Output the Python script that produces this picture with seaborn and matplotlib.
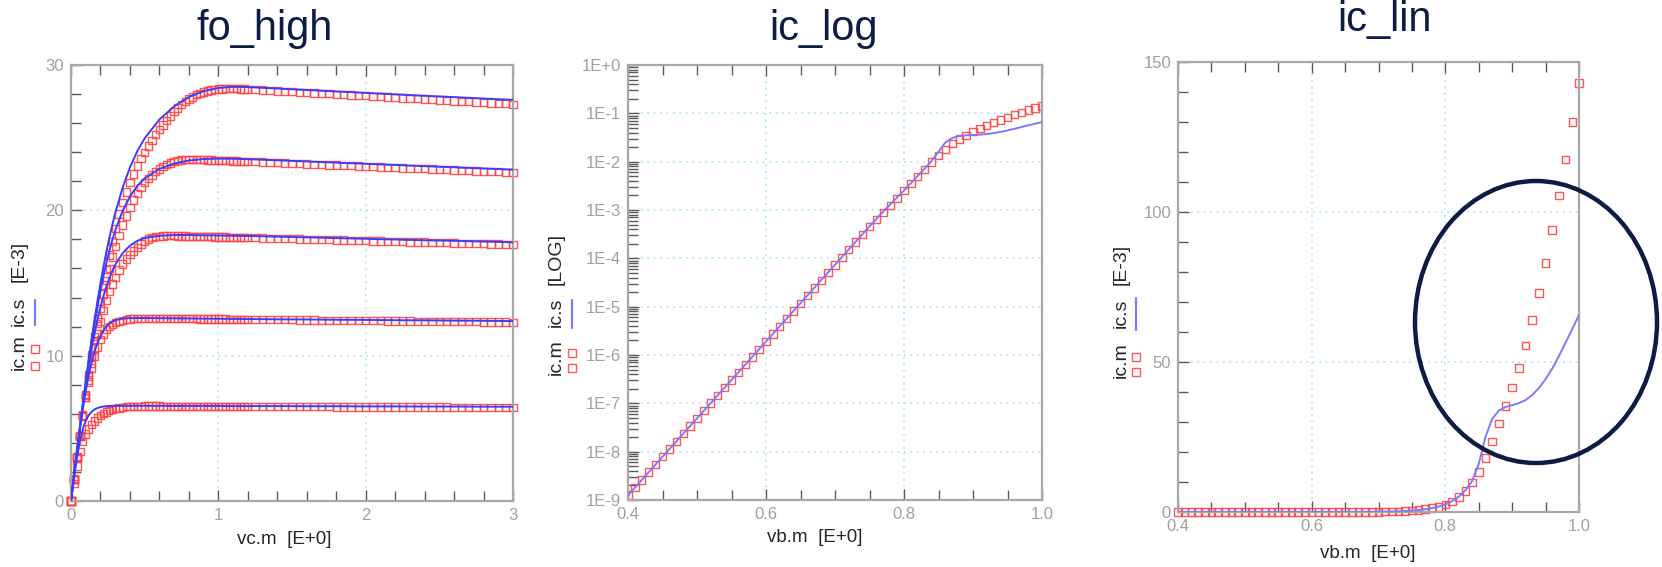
import numpy as np
import pandas as pd
import matplotlib
matplotlib.use("Agg")
import matplotlib.pyplot as plt
import seaborn as sns
from matplotlib.patches import Ellipse
from matplotlib.lines import Line2D
from matplotlib.ticker import MultipleLocator, LogLocator, FuncFormatter, NullFormatter

# ---------------- output characteristics (fo_high), currents in mA ----------------
VC_MEAS = [0.00, 0.02, 0.04, 0.06, 0.08, 0.10, 0.12, 0.14, 0.16, 0.18, 0.20, 0.22, 0.24, 0.26, 0.28, 0.30,
           0.325, 0.350, 0.375, 0.400, 0.425, 0.450, 0.475, 0.500, 0.525, 0.550, 0.575, 0.600,
           0.625, 0.650, 0.675, 0.700, 0.725, 0.750, 0.775, 0.800, 0.825, 0.850, 0.875, 0.900,
           0.925, 0.950, 0.975, 1.000, 1.025, 1.050, 1.075, 1.100, 1.125, 1.150, 1.175, 1.200,
           1.25, 1.30, 1.35, 1.40, 1.45, 1.50, 1.55, 1.60, 1.65, 1.70, 1.75, 1.80, 1.85, 1.90, 1.95, 2.00,
           2.05, 2.10, 2.15, 2.20, 2.25, 2.30, 2.35, 2.40, 2.45, 2.50, 2.55, 2.60, 2.65, 2.70, 2.75, 2.80,
           2.85, 2.90, 2.95, 3.00]

IC_MEAS_1 = [0.0, 1.20, 2.40, 3.40, 4.10, 4.60, 4.95, 5.25, 5.50, 5.70, 5.87, 6.00, 6.12, 6.22, 6.30, 6.36,
             6.41, 6.45, 6.48, 6.50, 6.51, 6.52, 6.52, 6.53, 6.53, 6.53, 6.53, 6.53,
             6.52, 6.52, 6.52, 6.52, 6.52, 6.52, 6.52, 6.52, 6.51, 6.51, 6.51, 6.51,
             6.51, 6.51, 6.51, 6.51, 6.50, 6.50, 6.50, 6.50, 6.50, 6.50, 6.50, 6.50,
             6.50, 6.49, 6.49, 6.49, 6.49, 6.49, 6.48, 6.48, 6.48, 6.48, 6.48, 6.47, 6.47, 6.47, 6.47, 6.47,
             6.47, 6.46, 6.46, 6.46, 6.46, 6.46, 6.46, 6.46, 6.46, 6.46, 6.46, 6.45, 6.45, 6.45, 6.45, 6.45,
             6.45, 6.45, 6.45, 6.45]
IC_MEAS_2 = [0.0, 1.55, 3.05, 4.50, 5.85, 7.10, 8.20, 9.15, 9.95, 10.60, 11.10, 11.50, 11.80, 12.00, 12.15, 12.27,
             12.36, 12.43, 12.48, 12.52, 12.54, 12.56, 12.57, 12.57, 12.57, 12.57, 12.57, 12.56,
             12.56, 12.56, 12.55, 12.55, 12.55, 12.55, 12.54, 12.54, 12.54, 12.54, 12.53, 12.53,
             12.53, 12.53, 12.52, 12.52, 12.52, 12.52, 12.51, 12.51, 12.51, 12.51, 12.50, 12.50,
             12.49, 12.49, 12.48, 12.48, 12.47, 12.47, 12.46, 12.46, 12.45, 12.44, 12.44, 12.43, 12.43, 12.42, 12.42, 12.41,
             12.40, 12.40, 12.39, 12.39, 12.38, 12.38, 12.37, 12.37, 12.36, 12.35, 12.35, 12.34, 12.34, 12.33, 12.33, 12.32,
             12.32, 12.31, 12.31, 12.30]
IC_MEAS_3 = [0.0, 1.50, 2.97, 4.42, 5.80, 7.10, 8.33, 9.47, 10.53, 11.48, 12.34, 13.10, 13.79, 14.40, 14.93, 15.40,
             15.90, 16.31, 16.66, 16.94, 17.20, 17.45, 17.68, 17.88, 18.02, 18.12, 18.18, 18.22,
             18.24, 18.25, 18.25, 18.25, 18.24, 18.24, 18.23, 18.22, 18.22, 18.21, 18.20, 18.20,
             18.19, 18.18, 18.17, 18.17, 18.16, 18.16, 18.15, 18.14, 18.14, 18.13, 18.12, 18.12,
             18.11, 18.09, 18.08, 18.07, 18.05, 18.04, 18.03, 18.01, 18.00, 17.99, 17.98, 17.96, 17.95, 17.94, 17.92, 17.91,
             17.90, 17.88, 17.87, 17.86, 17.85, 17.83, 17.82, 17.81, 17.79, 17.78, 17.77, 17.75, 17.74, 17.73, 17.72, 17.70,
             17.69, 17.68, 17.66, 17.65]
IC_MEAS_4 = [0.0, 1.50, 2.98, 4.45, 5.87, 7.26, 8.58, 9.86, 11.06, 12.20, 13.26, 14.25, 15.17, 16.00, 16.78, 17.49,
             18.28, 18.99, 19.62, 20.18, 20.70, 21.15, 21.55, 21.90, 22.18, 22.43, 22.65, 22.85,
             23.01, 23.15, 23.26, 23.35, 23.41, 23.46, 23.49, 23.50, 23.51, 23.50, 23.49, 23.48,
             23.47, 23.46, 23.45, 23.44, 23.43, 23.42, 23.41, 23.40, 23.39, 23.38, 23.37, 23.36,
             23.34, 23.32, 23.30, 23.27, 23.25, 23.23, 23.21, 23.19, 23.17, 23.15, 23.13, 23.11, 23.09, 23.07, 23.05, 23.02,
             23.00, 22.98, 22.96, 22.94, 22.92, 22.90, 22.88, 22.86, 22.84, 22.81, 22.79, 22.77, 22.75, 22.73, 22.71, 22.69,
             22.67, 22.65, 22.62, 22.60]
IC_MEAS_5 = [0.0, 1.50, 2.99, 4.46, 5.92, 7.34, 8.71, 10.04, 11.34, 12.55, 13.73, 14.87, 15.93, 16.92, 17.86, 18.75,
             19.75, 20.55, 21.25, 21.90, 22.50, 23.05, 23.55, 24.00, 24.42, 24.82, 25.20, 25.55,
             25.88, 26.20, 26.50, 26.78, 27.03, 27.26, 27.47, 27.65, 27.81, 27.95, 28.06, 28.15,
             28.22, 28.27, 28.31, 28.34, 28.36, 28.37, 28.38, 28.38, 28.37, 28.36, 28.35, 28.33,
             28.30, 28.27, 28.25, 28.22, 28.19, 28.16, 28.13, 28.10, 28.08, 28.05, 28.02, 27.99, 27.96, 27.93, 27.90, 27.88,
             27.85, 27.82, 27.79, 27.76, 27.73, 27.70, 27.68, 27.65, 27.62, 27.59, 27.56, 27.53, 27.50, 27.48, 27.45, 27.42,
             27.39, 27.36, 27.33, 27.30]

VC_SIM = [0.00, 0.02, 0.04, 0.06, 0.08, 0.10, 0.12, 0.14, 0.16, 0.18, 0.20, 0.22, 0.24, 0.26, 0.28, 0.30,
          0.35, 0.40, 0.45, 0.50, 0.6, 0.7, 0.8, 0.9, 1.0, 1.1, 1.2, 1.4, 1.6, 1.8, 2.0, 2.2, 2.4, 2.6, 2.8, 3.0]
IC_SIM_1 = [0.0, 1.55, 2.95, 4.10, 4.95, 5.52, 5.90, 6.14, 6.30, 6.40, 6.46, 6.50, 6.52, 6.54, 6.55, 6.55,
            6.55, 6.55, 6.55, 6.55, 6.55, 6.54, 6.54, 6.54, 6.54, 6.53, 6.53,
            6.53, 6.52, 6.52, 6.51, 6.51, 6.50, 6.50, 6.49, 6.49]
IC_SIM_2 = [0.0, 1.72, 3.38, 4.93, 6.33, 7.57, 8.64, 9.54, 10.28, 10.88, 11.36, 11.73, 12.01, 12.21, 12.35, 12.44,
            12.55, 12.58, 12.59, 12.59, 12.58, 12.57, 12.56, 12.55, 12.54, 12.53, 12.52,
            12.50, 12.49, 12.47, 12.46, 12.44, 12.43, 12.41, 12.40, 12.38]
IC_SIM_3 = [0.0, 1.70, 3.37, 4.98, 6.51, 7.94, 9.26, 10.46, 11.54, 12.50, 13.35, 14.10, 14.75, 15.32, 15.82, 16.25,
            17.05, 17.57, 17.90, 18.10, 18.25, 18.30, 18.30, 18.28, 18.27, 18.25, 18.24,
            18.19, 18.14, 18.09, 18.04, 17.99, 17.94, 17.90, 17.85, 17.80]
IC_SIM_4 = [0.0, 1.70, 3.38, 5.02, 6.61, 8.13, 9.57, 10.93, 12.20, 13.38, 14.47, 15.47, 16.38, 17.20, 17.94, 18.60,
            19.95, 20.95, 21.68, 22.20, 22.85, 23.22, 23.43, 23.53, 23.56, 23.55, 23.52,
            23.44, 23.36, 23.28, 23.20, 23.12, 23.04, 22.96, 22.88, 22.80]
IC_SIM_5 = [0.0, 1.70, 3.38, 5.03, 6.64, 8.20, 9.70, 11.13, 12.49, 13.78, 14.98, 16.10, 17.14, 18.10, 18.98, 19.80,
            21.55, 22.95, 24.07, 24.95, 26.25, 27.15, 27.80, 28.20, 28.42, 28.50, 28.48,
            28.38, 28.28, 28.18, 28.08, 27.98, 27.88, 27.79, 27.69, 27.60]

# ---------------- Gummel sweep (ic_log / ic_lin), currents in mA ----------------
VB = [0.40, 0.41, 0.42, 0.43, 0.44, 0.45, 0.46, 0.47, 0.48, 0.49,
      0.50, 0.51, 0.52, 0.53, 0.54, 0.55, 0.56, 0.57, 0.58, 0.59,
      0.60, 0.61, 0.62, 0.63, 0.64, 0.65, 0.66, 0.67, 0.68, 0.69,
      0.70, 0.71, 0.72, 0.73, 0.74, 0.75, 0.76, 0.77, 0.78, 0.79,
      0.80, 0.81, 0.82, 0.83, 0.84, 0.85, 0.86, 0.87, 0.88, 0.89,
      0.90, 0.91, 0.92, 0.93, 0.94, 0.95, 0.96, 0.97, 0.98, 0.99, 1.00]
IC_MEAS_VB = [1.26e-6, 1.82e-6, 2.61e-6, 3.77e-6, 5.43e-6, 7.83e-6, 1.13e-5, 1.63e-5, 2.34e-5, 3.38e-5,
              4.87e-5, 7.02e-5, 1.01e-4, 1.46e-4, 2.10e-4, 3.03e-4, 4.36e-4, 6.29e-4, 9.06e-4, 1.31e-3,
              1.88e-3, 2.71e-3, 3.91e-3, 5.64e-3, 8.12e-3, 1.17e-2, 1.69e-2, 2.43e-2, 3.50e-2, 5.05e-2,
              7.28e-2, 0.105, 0.151, 0.218, 0.314, 0.450, 0.640, 0.900, 1.25, 1.75,
              2.50, 3.50, 4.90, 6.90, 9.80, 13.3, 18.0, 23.5, 29.5, 35.3,
              41.5, 48.0, 55.5, 64.0, 73.0, 83.0, 94.0, 105.5, 117.5, 130.0, 143.0]
IC_SIM_VB = [1.25e-6, 1.81e-6, 2.60e-6, 3.76e-6, 5.42e-6, 7.82e-6, 1.13e-5, 1.63e-5, 2.35e-5, 3.39e-5,
             4.89e-5, 7.05e-5, 1.02e-4, 1.47e-4, 2.11e-4, 3.05e-4, 4.39e-4, 6.33e-4, 9.12e-4, 1.32e-3,
             1.90e-3, 2.74e-3, 3.95e-3, 5.70e-3, 8.21e-3, 1.18e-2, 1.71e-2, 2.46e-2, 3.55e-2, 5.11e-2,
             7.37e-2, 0.106, 0.153, 0.221, 0.318, 0.458, 0.655, 0.930, 1.30, 1.82,
             2.55, 3.60, 5.10, 7.20, 10.3, 16.0, 25.0, 31.0, 33.8, 35.0,
             35.6, 36.3, 37.3, 39.0, 41.3, 44.3, 47.8, 52.0, 56.5, 61.0, 65.7]

TITLES = ["fo_high", "ic_log", "ic_lin"]
XLABELS = ["vc.m  [E+0]", "vb.m  [E+0]", "vb.m  [E+0]"]
YUNITS = ["[E-3]", "[LOG]", "[E-3]"]

RED = "#ff4242"
BLUE_DARK = "#3c3cff"
BLUE_LIGHT = "#7b7bff"
NAVY = "#0c1c45"
LABEL_GREY = "#262626"

meas_long = pd.DataFrame({
    "vc": VC_MEAS * 5,
    "ic": IC_MEAS_1 + IC_MEAS_2 + IC_MEAS_3 + IC_MEAS_4 + IC_MEAS_5,
    "curve": sum([[k] * len(VC_MEAS) for k in range(5)], []),
})
sim_long = pd.DataFrame({
    "vc": VC_SIM * 5,
    "ic": IC_SIM_1 + IC_SIM_2 + IC_SIM_3 + IC_SIM_4 + IC_SIM_5,
    "curve": sum([[k] * len(VC_SIM) for k in range(5)], []),
})
gummel = pd.DataFrame({
    "vb": VB,
    "ic_m": IC_MEAS_VB,
    "ic_s": IC_SIM_VB,
})
gummel["ic_m_A"] = gummel["ic_m"] * 1e-3
gummel["ic_s_A"] = gummel["ic_s"] * 1e-3

sns.set_style("white")
plt.rcParams["font.family"] = ["Liberation Sans", "DejaVu Sans"]

W, H = 1662, 567
fig = plt.figure(figsize=(W / 100, H / 100), dpi=100)


def px_axes(left, top, right, bottom):
    return fig.add_axes([left / W, 1 - bottom / H, (right - left) / W, (bottom - top) / H])


def fpos(x, y):
    return x / W, 1 - y / H


ax1 = px_axes(71, 65, 513, 501)
ax2 = px_axes(628, 65, 1042, 500)
ax3 = px_axes(1178, 62, 1579, 512)


def style(ax):
    for s in ax.spines.values():
        s.set_color("#a8a8a8")
        s.set_linewidth(1.6)
    ax.tick_params(which="both", direction="in", top=True, right=False, bottom=True, left=True,
                   color="#5a5a5a", labelcolor="#a0a0a0", labelsize=12, width=1.0)
    ax.tick_params(which="major", length=8, pad=5)
    ax.tick_params(which="minor", length=7)
    ax.set_axisbelow(True)
    ax.grid(True, which="major", color="#a6e3f0", linestyle=(0, (1.2, 3)), linewidth=1.1)
    ax.grid(False, which="minor")
    ax.set_xlabel("")
    ax.set_ylabel("")


# fo_high
sns.scatterplot(data=meas_long, x="vc", y="ic", ax=ax1, marker="s", s=28, facecolor="none",
                edgecolor=RED, linewidth=1.0, alpha=0.9, clip_on=False, legend=False, zorder=2)
sns.lineplot(data=sim_long, x="vc", y="ic", units="curve", estimator=None, ax=ax1,
             color=BLUE_DARK, linewidth=1.4, legend=False, zorder=3)
ax1.set_xlim(0, 3)
ax1.set_ylim(0, 30)
ax1.xaxis.set_major_locator(MultipleLocator(1))
ax1.xaxis.set_minor_locator(MultipleLocator(0.2))
ax1.yaxis.set_major_locator(MultipleLocator(10))
ax1.yaxis.set_minor_locator(MultipleLocator(2))
ax1.xaxis.set_major_formatter(FuncFormatter(lambda v, p: f"{v:.0f}"))
ax1.yaxis.set_major_formatter(FuncFormatter(lambda v, p: f"{v:.0f}"))
style(ax1)

# ic_log
sns.scatterplot(data=gummel, x="vb", y="ic_m_A", ax=ax2, marker="s", s=28, facecolor="none",
                edgecolor=RED, linewidth=1.0, alpha=0.9, legend=False, zorder=2)
sns.lineplot(data=gummel, x="vb", y="ic_s_A", ax=ax2, color=BLUE_LIGHT, linewidth=1.4,
             legend=False, zorder=3)
ax2.set_yscale("log")
ax2.set_xlim(0.4, 1.0)
ax2.set_ylim(1e-9, 1)
ax2.xaxis.set_major_locator(MultipleLocator(0.2))
ax2.xaxis.set_minor_locator(MultipleLocator(0.05))
ax2.yaxis.set_major_locator(LogLocator(base=10, numticks=20))
ax2.yaxis.set_minor_locator(LogLocator(base=10, subs=np.arange(2, 10), numticks=20))
ax2.yaxis.set_minor_formatter(NullFormatter())
ax2.yaxis.set_major_formatter(FuncFormatter(lambda v, p: f"1E{int(round(np.log10(v))):+d}"))
ax2.xaxis.set_major_formatter(FuncFormatter(lambda v, p: f"{v:.1f}"))
style(ax2)

# ic_lin
sns.scatterplot(data=gummel, x="vb", y="ic_m", ax=ax3, marker="s", s=30, facecolor="none",
                edgecolor=RED, linewidth=1.0, alpha=0.9, clip_on=False, legend=False, zorder=2)
sns.lineplot(data=gummel, x="vb", y="ic_s", ax=ax3, color=BLUE_LIGHT, linewidth=1.4,
             legend=False, zorder=3)
ax3.set_xlim(0.4, 1.0)
ax3.set_ylim(0, 150)
ax3.xaxis.set_major_locator(MultipleLocator(0.2))
ax3.xaxis.set_minor_locator(MultipleLocator(0.05))
ax3.yaxis.set_major_locator(MultipleLocator(50))
ax3.yaxis.set_minor_locator(MultipleLocator(10))
ax3.xaxis.set_major_formatter(FuncFormatter(lambda v, p: f"{v:.1f}"))
ax3.yaxis.set_major_formatter(FuncFormatter(lambda v, p: f"{v:.0f}"))
style(ax3)

# titles
for (tx, ty), title in zip([(265, 40), (823, 40), (1384, 31)], TITLES):
    fig.text(*fpos(tx, ty), title, ha="center", va="baseline", fontsize=30, color=NAVY)

# x labels
for (lx, ly), lab in zip([(284, 540), (815, 538), (1368, 553)], XLABELS):
    fig.text(*fpos(lx, ly), lab, ha="center", va="center", fontsize=13.5, color=LABEL_GREY)


# y labels with inline legend glyphs
def ylabel_block(xc, y_m, y_s, y_u, unit, gx, sq_y, line_y):
    for yy, txt in ((y_m, "ic.m"), (y_s, "ic.s"), (y_u, unit)):
        fig.text(*fpos(xc, yy), txt, rotation=90, ha="center", va="center",
                 fontsize=14, color=LABEL_GREY)
    for sy in sq_y:
        fig.add_artist(Line2D([gx / W], [1 - sy / H], transform=fig.transFigure, marker="s",
                              markersize=5.5, markerfacecolor="none", markeredgecolor=RED,
                              markeredgewidth=1.0, linestyle="none", alpha=0.9))
    fig.add_artist(Line2D([gx / W, gx / W], [1 - line_y[0] / H, 1 - line_y[1] / H],
                          transform=fig.transFigure, color=BLUE_LIGHT, linewidth=1.6))


ylabel_block(19, 352, 311, 261, YUNITS[0], 35, (349, 366), (300, 325))
ylabel_block(556, 357, 312, 259, YUNITS[1], 572, (353, 368), (300, 328))
ylabel_block(1121, 360, 313, 264, YUNITS[2], 1136, (357, 372), (298, 330))

# highlight around the high-injection region
fig.add_artist(Ellipse(fpos(1536, 322), 242 / W, 282 / H, transform=fig.transFigure,
                       fill=False, edgecolor=NAVY, linewidth=3.2))

fig.savefig("out.png", dpi=100)
